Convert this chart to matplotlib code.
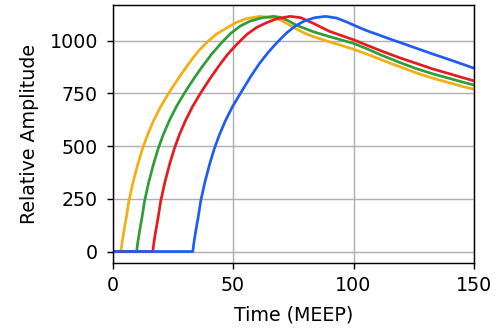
import matplotlib
matplotlib.use("Agg")
import matplotlib.pyplot as plt

# Time axis (MEEP units) and relative amplitude for each source
t_yellow = [0, 3.5, 4.0, 4.7, 5.7, 6.8, 8.5, 10.5, 12.5, 14.5, 17, 20, 23.5, 27.5, 31.5,
            35.5, 39.5, 43.5, 47.5, 51.5, 55.5, 61, 65, 69.5, 73, 76.4, 80, 83.3, 90, 95,
            100, 106, 112, 119, 126, 133, 140, 145, 150]
a_yellow = [0, 0, 45, 95, 160, 240, 328, 415, 490, 553, 620, 688, 755, 825, 890,
            950, 997, 1035, 1062, 1088, 1105, 1116, 1112, 1100, 1078, 1055, 1035, 1020, 995, 978,
            960, 935, 908, 878, 848, 822, 800, 784, 770]

t_green = [0, 10, 10.5, 11.2, 12.2, 13.3, 15, 17, 19, 21, 23.5, 26.5, 30, 34, 37.5,
           41, 45, 49, 53, 57, 61.5, 66.7, 69.5, 73, 76.4, 80, 83.3, 90, 95,
           100, 106, 112, 119, 126, 133, 140, 145, 150]
a_green = [0, 0, 45, 95, 160, 240, 328, 415, 490, 553, 620, 688, 755, 825, 882,
           935, 988, 1035, 1070, 1093, 1108, 1116, 1112, 1095, 1073, 1058, 1043, 1020, 1004,
           988, 960, 930, 898, 868, 843, 821, 805, 790]

t_red = [0, 16.7, 17.2, 17.9, 18.9, 20, 21.7, 23.7, 25.7, 27.7, 30.2, 33.2, 36.7, 40.7, 44.2,
         47.7, 51.7, 55.7, 59.7, 63.7, 68.2, 73.7, 78, 83.3, 90, 95, 100, 106, 112, 119,
         126, 133, 140, 145, 150]
a_red = [0, 0, 45, 95, 160, 240, 328, 415, 490, 553, 620, 688, 755, 825, 882,
         935, 985, 1030, 1063, 1085, 1105, 1116, 1110, 1083, 1045, 1025, 1005, 977, 950, 920,
         893, 866, 843, 826, 810]

t_blue = [0, 33.3, 33.8, 34.5, 35.5, 36.6, 38.3, 40.3, 42.3, 44.3, 46.8, 49.8, 53.3, 57.3, 61,
          64.8, 68.5, 72.3, 76, 80, 84, 88.5, 93, 97, 100, 103, 106, 110, 114.5, 119.3,
          126, 133, 140, 145, 150]
a_blue = [0, 0, 45, 95, 160, 240, 328, 415, 490, 553, 620, 688, 755, 830, 893,
          948, 995, 1038, 1072, 1096, 1110, 1116, 1108, 1090, 1075, 1060, 1046, 1030, 1011, 992,
          965, 937, 910, 890, 870]

series = [
    (t_yellow, a_yellow, "#f3ae12"),
    (t_green, a_green, "#2e9e38"),
    (t_red, a_red, "#e8191f"),
    (t_blue, a_blue, "#1f5cf5"),
]

plt.rcParams["font.size"] = 10.5

fig = plt.figure(figsize=(501 / 130, 331 / 130), dpi=130)
ax = fig.add_axes([0.2246, 0.2045, 0.7216, 0.7804])

for t, a, c in series:
    ax.plot(t, a, color=c, linewidth=1.5)

ax.set_xlim(0, 150)
ax.set_ylim(-56, 1170)
ax.set_xticks([0, 50, 100, 150])
ax.set_yticks([0, 250, 500, 750, 1000])
ax.tick_params(axis="y", pad=4.5)
ax.grid(True)
ax.set_xlabel("Time (MEEP)", labelpad=6)
ax.set_ylabel("Relative Amplitude", labelpad=6)

fig.savefig("out.png", dpi=130)
